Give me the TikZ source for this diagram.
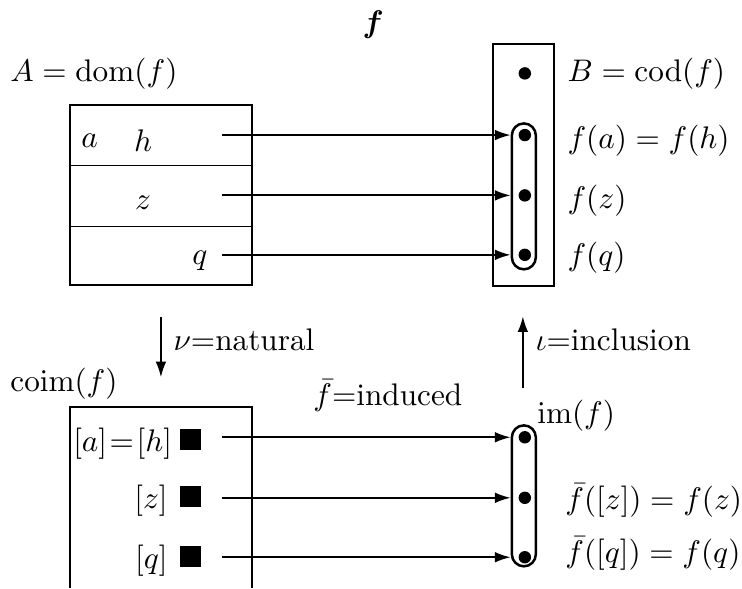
\documentclass[tikz,border=0pt]{standalone}
\usepackage{amssymb}
\usepackage{amsmath}
\usepackage{tikz}
\usetikzlibrary{arrows.meta}

\begin{document}
\begin{tikzpicture}[x=1cm,y=1cm,
    map/.style={semithick,-{Latex[length=5pt,width=3.4pt]}},
    pill/.style={draw,thick,rounded corners=0.135cm,minimum width=0.27cm,inner sep=0pt},
    elt/.style={circle,fill,inner sep=0pt,minimum size=0.14cm},
    lbl/.style={anchor=west,inner sep=0pt},
    cls/.style={anchor=base east,inner sep=0pt}]
                \useasboundingbox (0,0) rectangle (8.35,6.62);
                \node (title) at (4.20,6.345) {$\boldsymbol{f}$};
                % domain
                \node[lbl] (dom) at (0.11,5.79) {$A=\mathrm{dom}(f)$};
                \draw[semithick] (0.79,3.41) rectangle (2.835,5.434);
                \draw[thin] (0.79,4.759) -- (2.835,4.759);
                \draw[thin] (0.79,4.073) -- (2.835,4.073);
                \node (a) at (1.01,5.04) {$a$};
                \node (h) at (1.61,5.04) {$h$};
                \node (z) at (1.61,4.34) {$z$};
                \node (q) at (2.25,3.69) {$q$};
                % codomain
                \draw[semithick] (5.546,3.3975) rectangle (6.233,6.12);
                \node[pill,minimum height=1.642cm] (pillB) at (5.895,4.41) {};
                \node[elt] (b0) at (5.906,5.794) {};
                \node[elt] (b1) at (5.906,5.1) {};
                \node[elt] (b2) at (5.906,4.421) {};
                \node[elt] (b3) at (5.906,3.752) {};
                \node[lbl] (cod) at (6.38,5.794) {$B=\mathrm{cod}(f)$};
                \node[lbl] (fa) at (6.38,5.04) {$f(a)=f(h)$};
                \node[lbl] (fz) at (6.38,4.365) {$f(z)$};
                \node[lbl] (fq) at (6.38,3.724) {$f(q)$};
                \coordinate (sa) at (2.4975,5.1);
                \coordinate (sz) at (2.4975,4.421);
                \coordinate (sq) at (2.4975,3.752);
                \draw[map] (sa) -- (sa -| pillB.west);
                \draw[map] (sz) -- (sz -| pillB.west);
                \draw[map] (sq) -- (sq -| pillB.west);
                % vertical maps
                \coordinate (nuS) at (1.811,3.049);
                \coordinate (nuE) at (1.811,2.374);
                \draw[map] (nuS) -- (nuE);
                \node[lbl] (nu) at (1.946,2.79) {$\nu$=natural};
                \coordinate (ioS) at (5.884,2.25);
                \coordinate (ioE) at (5.884,3.06);
                \draw[map] (ioS) -- (ioE);
                \node[lbl] (io) at (6.02,2.79) {$\iota$=inclusion};
                % coimage
                \node[lbl] (coim) at (0.11,2.306) {$\mathrm{coim}(f)$};
                \draw[semithick] (0.79,0) -- (0.79,2.036) -- (2.835,2.036) -- (2.835,0);
                \node[cls] (ca) at (2.2725,1.541) {$[a]\mkern1.5mu{=}\mkern1.5mu[h]$\hspace{2.6pt}\rule[0.3pt]{6.8pt}{6.8pt}};
                \node[cls] (cz) at (2.2725,0.90) {$[z]$\hspace{4pt}\rule[0.3pt]{6.8pt}{6.8pt}};
                \node[cls] (cq) at (2.2725,0.225) {$[q]$\hspace{4pt}\rule[0.3pt]{6.8pt}{6.8pt}};
                \node[lbl] (ind) at (3.52,2.171) {$\bar f$=induced};
                % image
                \node[pill,minimum height=1.586cm] (pillI) at (5.895,1.04) {};
                \node[elt] (i1) at (5.906,1.699) {};
                \node[elt] (i2) at (5.906,1.018) {};
                \node[elt] (i3) at (5.906,0.349) {};
                \node[lbl] (im) at (6.04,1.946) {$\mathrm{im}(f)$};
                \node[lbl] (fbz) at (6.356,0.99) {$\bar f([z])=f(z)$};
                \node[lbl] (fbq) at (6.356,0.394) {$\bar f([q])=f(q)$};
                \coordinate (ta) at (2.4975,1.699);
                \coordinate (tz) at (2.4975,1.018);
                \coordinate (tq) at (2.4975,0.349);
                \draw[map] (ta) -- (ta -| pillI.west);
                \draw[map] (tz) -- (tz -| pillI.west);
                \draw[map] (tq) -- (tq -| pillI.west);
            \end{tikzpicture}
\end{document}
